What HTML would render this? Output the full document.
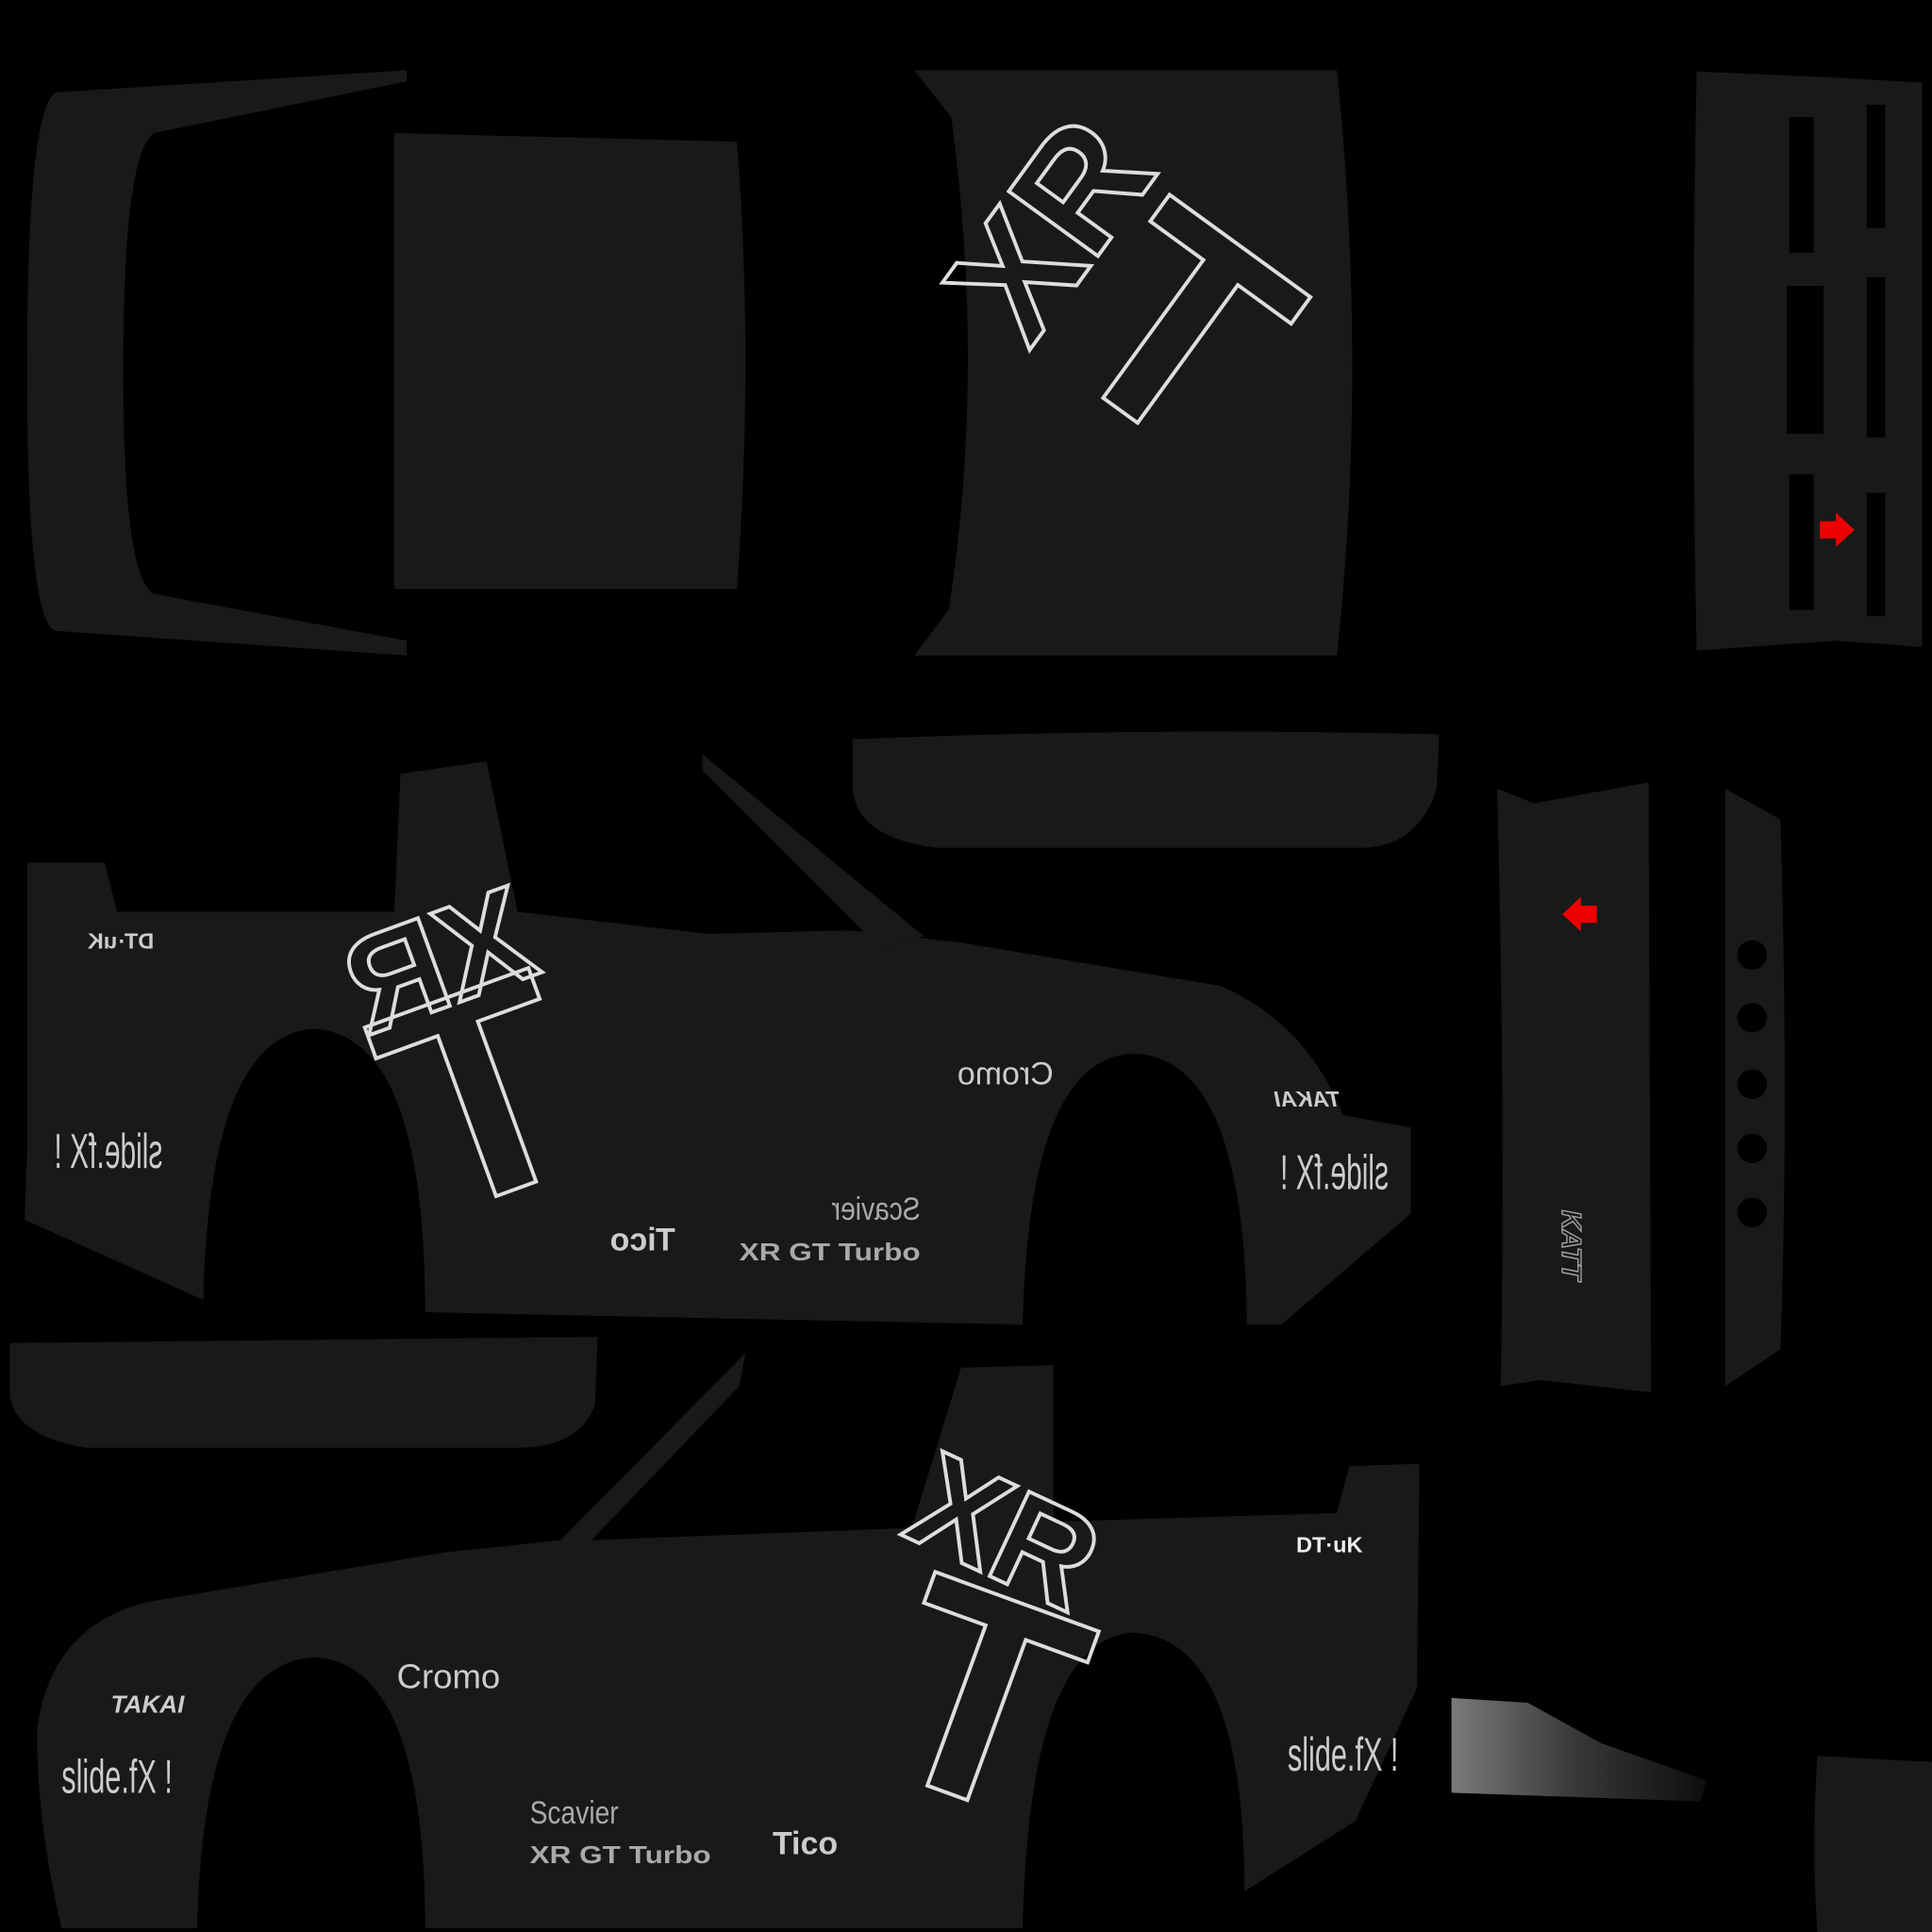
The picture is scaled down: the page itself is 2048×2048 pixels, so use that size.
<!DOCTYPE html>
<html><head><meta charset="utf-8"><style>
html,body{margin:0;padding:0;background:#000;width:2048px;height:2048px;overflow:hidden}
svg{display:block}
text{font-family:"Liberation Sans",sans-serif}
</style></head><body>
<svg width="2048" height="2048" viewBox="0 0 1568 1568" xmlns="http://www.w3.org/2000/svg">
<defs><linearGradient id="bl" x1="0" x2="1"><stop offset="0" stop-color="#999"/><stop offset="0.5" stop-color="#444"/><stop offset="1" stop-color="#111"/></linearGradient></defs>
<rect width="1568" height="1568" fill="#000"/>
<g fill="#191919">
<path d="M330,57 L45,75 Q22,90 22,300 Q22,505 45,512 L330,532 L330,520 L125,482 Q100,470 100,300 Q100,125 125,108 L330,66 Z"/>
<path d="M320,108 L598,115 Q612,290 598,478 L320,478 Z"/>
<path d="M742,57 L1085,57 Q1110,300 1085,532 L742,532 L770,495 Q800,300 772,95 Z"/>
<path d="M1377,58 L1490,63 L1560,67 L1560,525 L1490,520 L1377,528 Q1372,300 1377,58 Z"/>
<path d="M692,600 Q930,590 1168,596 L1166,640 Q1150,690 1100,688 L760,688 Q695,680 692,640 Z"/>
<path d="M22,700 L85,700 L95,740 L320,740 L325,628 L395,618 L420,740 L575,758 L690,755 L780,765 L990,800 Q1060,830 1090,905 L1145,915 L1145,985 L1040,1075 L1012,1075 Q1010,858 920,855 Q835,858 830,1075 L345,1065 Q345,840 255,835 Q170,840 165,1055 L20,990 L22,935 Z"/>
<path d="M570,612 L750,760 L715,770 L570,625 Z"/>
<path d="M1215,640 L1245,652 L1338,635 L1340,1130 L1250,1120 L1218,1125 Q1222,900 1215,640 Z"/>
<path d="M1400,640 L1445,665 Q1452,900 1445,1095 L1400,1125 Z"/>
<path d="M8,1090 L485,1085 L483,1140 Q470,1175 420,1175 L70,1175 Q10,1165 8,1130 Z"/>
<path d="M30,1405 Q40,1320 120,1300 L360,1260 L455,1250 L605,1098 L600,1125 L480,1250 L740,1240 L780,1110 L855,1108 L855,1235 L1085,1228 L1095,1190 L1152,1188 L1150,1370 L1100,1478 L1010,1535 Q1010,1330 920,1325 Q835,1330 830,1565 L345,1565 Q345,1350 255,1345 Q165,1350 160,1565 L50,1565 Q30,1480 30,1405 Z"/>
<path d="M1475,1425 L1568,1430 L1568,1568 L1475,1568 Q1470,1500 1475,1425 Z"/>
</g>
<path d="M1178,1378 L1240,1382 L1300,1415 L1385,1445 L1380,1462 L1178,1455 Z" fill="url(#bl)" opacity="0.8"/>
<g fill="#000">
<rect x="1452" y="95" width="20" height="110"/><rect x="1450" y="232" width="30" height="120"/><rect x="1452" y="385" width="20" height="110"/>
<rect x="1515" y="85" width="15" height="100"/><rect x="1515" y="225" width="15" height="130"/><rect x="1515" y="400" width="15" height="100"/>
<circle cx="1422" cy="775" r="12"/><circle cx="1422" cy="826" r="12"/><circle cx="1422" cy="880" r="12"/><circle cx="1422" cy="932" r="12"/><circle cx="1422" cy="984" r="12"/>
</g>
<path d="M1477,423 L1490,423 L1490,416 L1505,430 L1490,444 L1490,437 L1477,437 Z" fill="#e00"/>
<path d="M1296,735 L1283,735 L1283,728 L1268,742 L1283,756 L1283,749 L1296,749 Z" fill="#e00"/>
<g fill="none" stroke="#ddd" stroke-width="3" font-weight="bold">
<text x="0" y="0" font-size="240" transform="translate(850,290) rotate(36)">T</text>
<text x="0" y="0" font-size="130" transform="translate(835,285) rotate(-54)">XR</text>
<text x="0" y="0" font-size="240" transform="translate(350,990) rotate(-20)">T</text>
<text x="0" y="0" font-size="110" transform="translate(300,840) rotate(-20) scale(-1,1) translate(-150,0)">XR</text>
<text x="0" y="0" font-size="240" transform="translate(700,1430) rotate(20)">T</text>
<text x="0" y="0" font-size="110" transform="translate(730,1245) rotate(25)">XR</text>
</g>
<g fill="#ccc" font-weight="bold">
<text transform="translate(125,770) scale(-1,1)" font-size="18">DT·uK</text>
<text x="1052" y="1260" font-size="18" fill="#eee">DT·uK</text>
<text transform="translate(855,880) scale(-1,1)" font-size="26" font-weight="normal">Cromo</text>
<text x="322" y="1370" font-size="28" font-weight="normal">Cromo</text>
<text transform="translate(1088,898) scale(-1,1)" font-size="18" font-style="italic">TAKAI</text>
<text x="90" y="1390" font-size="20" font-style="italic">TAKAI</text>
<text transform="translate(132,948) scale(-1,1)" font-size="40" font-weight="normal" textLength="88" lengthAdjust="spacingAndGlyphs">slide.fX !</text>
<text transform="translate(1127,965) scale(-1,1)" font-size="40" font-weight="normal" textLength="88" lengthAdjust="spacingAndGlyphs">slide.fX !</text>
<text x="50" y="1455" font-size="38" font-weight="normal" textLength="90" lengthAdjust="spacingAndGlyphs">slide.fX !</text>
<text x="1045" y="1437" font-size="38" font-weight="normal" textLength="90" lengthAdjust="spacingAndGlyphs">slide.fX !</text>
<text transform="translate(548,1015) scale(-1,1)" font-size="26" font-family="Liberation Serif,serif">Tico</text>
<text x="627" y="1505" font-size="26" font-family="Liberation Serif,serif">Tico</text>
<text x="600" y="1023" font-size="20" font-family="Liberation Serif,serif" fill="#aaa" textLength="147" lengthAdjust="spacingAndGlyphs">XR GT Turbo</text>
<text x="430" y="1512" font-size="20" font-family="Liberation Serif,serif" fill="#aaa" textLength="147" lengthAdjust="spacingAndGlyphs">XR GT Turbo</text>
<text transform="translate(747,990) scale(-1,1)" font-size="26" font-weight="normal" fill="#aaa" textLength="72" lengthAdjust="spacingAndGlyphs">Scavier</text>
<text x="430" y="1480" font-size="26" font-weight="normal" fill="#aaa" textLength="72" lengthAdjust="spacingAndGlyphs">Scavier</text>
<text transform="translate(1268,982) rotate(90)" font-size="22" fill="none" stroke="#aaa" stroke-width="1" font-style="italic">KATT</text>
</g>
</svg>
</body></html>
